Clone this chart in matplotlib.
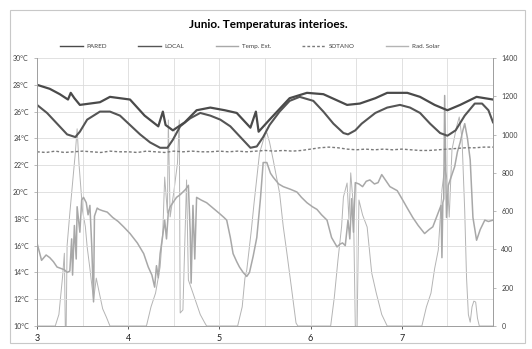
"""
Junio. Temperaturas interiores - recreated chart
"""
import matplotlib
matplotlib.use('Agg')
import matplotlib.pyplot as plt
from matplotlib.patches import Rectangle

# --- data (days on x axis) ---
pared_x = [3.00, 3.14, 3.25, 3.34, 3.37, 3.41, 3.47, 3.58, 3.69, 3.80, 3.91, 4.02,
           4.18, 4.33, 4.38, 4.41, 4.49, 4.62, 4.75, 4.90, 5.06, 5.19, 5.34, 5.40,
           5.43, 5.55, 5.77, 5.96, 6.14, 6.27, 6.40, 6.54, 6.71, 6.84, 7.06, 7.20,
           7.36, 7.50, 7.64, 7.82, 7.91, 8.00]
pared_t = [28.0, 27.7, 27.3, 26.9, 27.4, 27.0, 26.5, 26.6, 26.7, 27.1, 27.0, 26.9,
           25.7, 24.9, 26.0, 25.0, 24.6, 25.2, 26.1, 26.3, 26.1, 25.9, 24.8, 26.0,
           24.5, 25.4, 27.0, 27.4, 27.3, 26.9, 26.5, 26.6, 27.0, 27.4, 27.4, 27.1,
           26.5, 26.1, 26.5, 27.1, 27.0, 26.9]

local_x = [3.00, 3.11, 3.22, 3.33, 3.42, 3.47, 3.55, 3.69, 3.80, 3.91, 4.02, 4.13,
           4.24, 4.35, 4.43, 4.49, 4.57, 4.68, 4.79, 4.90, 5.01, 5.12, 5.23, 5.34,
           5.41, 5.48, 5.55, 5.66, 5.77, 5.88, 6.03, 6.14, 6.25, 6.36, 6.41, 6.49,
           6.56, 6.71, 6.84, 6.98, 7.09, 7.20, 7.31, 7.42, 7.50, 7.59, 7.69, 7.80,
           7.88, 7.95, 8.00]
local_t = [26.5, 25.9, 25.1, 24.3, 24.1, 24.5, 25.4, 26.0, 26.0, 25.7, 25.0, 24.3,
           23.7, 23.3, 23.3, 23.9, 24.9, 25.5, 25.9, 25.7, 25.4, 24.9, 24.1, 23.3,
           23.4, 24.1, 25.0, 26.0, 26.8, 27.1, 26.8, 26.0, 25.1, 24.4, 24.3, 24.6,
           25.1, 25.9, 26.3, 26.5, 26.3, 25.9, 25.1, 24.4, 24.2, 24.6, 25.7, 26.6,
           26.6, 26.1, 25.2]

ext_x = [3.00, 3.05, 3.10, 3.14, 3.18, 3.22, 3.26, 3.30, 3.33, 3.36, 3.38, 3.39,
         3.41, 3.43, 3.44, 3.47, 3.49, 3.51, 3.54, 3.56, 3.58, 3.60, 3.62, 3.63,
         3.66, 3.68, 3.72, 3.77, 3.83, 3.89, 3.95, 4.02, 4.10, 4.17, 4.22, 4.26,
         4.29, 4.31, 4.33, 4.35, 4.38, 4.40, 4.42, 4.44, 4.46, 4.50, 4.53, 4.57,
         4.60, 4.63, 4.66, 4.68, 4.69, 4.71, 4.73, 4.75, 4.80, 4.86, 4.93, 5.00,
         5.05, 5.08, 5.12, 5.15, 5.19, 5.22, 5.26, 5.30, 5.33, 5.37, 5.41, 5.45,
         5.48, 5.52, 5.56, 5.59, 5.65, 5.70, 5.78, 5.85, 5.90, 5.96, 6.02, 6.07,
         6.12, 6.18, 6.23, 6.29, 6.32, 6.35, 6.38, 6.41, 6.43, 6.45, 6.47, 6.49,
         6.53, 6.57, 6.61, 6.65, 6.70, 6.74, 6.78, 6.82, 6.87, 6.95, 7.01, 7.06,
         7.12, 7.18, 7.25, 7.30, 7.34, 7.39, 7.43, 7.44, 7.45, 7.46, 7.47, 7.49,
         7.51, 7.53, 7.58, 7.61, 7.64, 7.67, 7.69, 7.72, 7.75, 7.78, 7.82, 7.86,
         7.91, 7.95, 8.00]
ext_t = [16.2, 14.9, 15.3, 15.1, 14.8, 14.4, 14.3, 14.2, 14.0, 14.1, 16.5, 13.8,
         17.5, 15.0, 18.9, 17.0, 19.4, 19.6, 19.2, 18.3, 19.0, 16.0, 11.8, 18.2,
         18.8, 18.7, 18.6, 18.5, 18.1, 17.8, 17.4, 16.9, 16.2, 15.4, 14.4, 13.8,
         12.9, 14.5, 13.6, 15.4, 16.8, 17.9, 16.5, 18.5, 18.9, 19.3, 19.6, 19.8,
         20.0, 20.2, 20.5, 17.0, 13.2, 19.0, 15.0, 19.6, 19.4, 19.2, 18.8, 18.4,
         18.1, 17.9, 16.6, 15.4, 14.8, 14.4, 14.0, 13.7, 14.0, 15.2, 16.6, 19.5,
         22.2, 22.2, 21.4, 21.1, 20.6, 20.4, 20.2, 20.0, 19.6, 19.2, 18.9, 18.7,
         18.3, 17.9, 16.6, 15.9, 16.1, 16.2, 16.0, 17.9, 16.5, 19.5, 17.0, 20.7,
         20.6, 20.4, 20.8, 20.9, 20.6, 20.7, 21.3, 20.9, 20.4, 20.1, 19.4, 18.8,
         18.1, 17.5, 16.9, 17.2, 17.4, 18.3, 19.0, 15.1, 19.2, 19.5, 27.2, 18.1,
         20.5, 20.9, 21.9, 23.0, 23.7, 24.6, 25.1, 24.0, 22.4, 18.1, 16.4, 17.2,
         17.9, 17.8, 17.9]

sotano_x = [3.0, 3.1, 3.2, 3.3, 3.4, 3.5, 3.6, 3.7, 3.8, 3.9, 4.0, 4.1, 4.2, 4.3,
            4.4, 4.5, 4.6, 4.7, 4.8, 4.9, 5.0, 5.1, 5.2, 5.3, 5.4, 5.5, 5.6, 5.7,
            5.8, 5.9, 6.0, 6.1, 6.2, 6.3, 6.4, 6.5, 6.6, 6.7, 6.8, 6.9, 7.0, 7.1,
            7.2, 7.3, 7.4, 7.5, 7.6, 7.7, 7.8, 7.9, 8.0]
sotano_t = [23.0, 22.95, 23.05, 22.95, 23.0, 23.05, 23.0, 22.95, 23.05, 23.0, 23.0,
            22.95, 23.05, 23.0, 22.95, 23.05, 23.0, 23.05, 23.0, 23.0, 23.05, 23.0,
            23.05, 23.0, 23.05, 23.1, 23.05, 23.1, 23.05, 23.1, 23.2, 23.3, 23.35,
            23.3, 23.2, 23.15, 23.2, 23.15, 23.2, 23.15, 23.2, 23.15, 23.1, 23.1,
            23.15, 23.2, 23.25, 23.3, 23.3, 23.35, 23.35]

rad_x = [3.00, 3.20, 3.24, 3.28, 3.30, 3.31, 3.32, 3.33, 3.36, 3.40, 3.42, 3.44,
         3.46, 3.48, 3.50, 3.53, 3.55, 3.58, 3.62, 3.65, 3.68, 3.72, 3.76, 3.80,
         4.20, 4.25, 4.30, 4.35, 4.38, 4.40, 4.43, 4.44, 4.46, 4.50, 4.54, 4.56,
         4.57, 4.60, 4.64, 4.66, 4.71, 4.79, 4.84, 4.86,
         5.20, 5.25, 5.28, 5.30, 5.35, 5.38, 5.44, 5.50, 5.52, 5.55, 5.59, 5.66,
         5.70, 5.74, 5.79, 5.84, 5.86,
         6.22, 6.26, 6.30, 6.34, 6.36, 6.40, 6.42, 6.44, 6.47, 6.49, 6.51, 6.53,
         6.57, 6.62, 6.67, 6.72, 6.78, 6.84,
         7.22, 7.27, 7.32, 7.36, 7.40, 7.44, 7.47, 7.50, 7.52, 7.55, 7.60, 7.63,
         7.66, 7.69, 7.71, 7.73, 7.75, 7.77, 7.79, 7.81, 7.83, 7.85, 8.00]
rad_w = [0, 0, 60, 256, 380, 0, 0, 420, 590, 800, 903, 1030,
         850, 726, 600, 520, 413, 300, 136, 250, 180, 90, 47, 0,
         0, 100, 172, 308, 501, 778, 590, 1076, 570, 700, 850, 1076,
         68, 84, 763, 240, 172, 60, 16, 0,
         0, 100, 250, 292, 500, 642, 903, 1000, 1010, 960, 867, 694,
         520, 381, 200, 16, 0,
         0, 150, 345, 520, 674, 747, 560, 800, 620, 0, 0, 658,
         580, 517, 277, 172, 60, 0,
         0, 100, 172, 300, 397, 710, 830, 760, 569, 920, 1040, 1092,
         980, 600, 250, 60, 20, 100, 130, 125, 40, 0, 0]

x_ticks = [3, 4, 5, 6, 7]
t_ticks = list(range(10, 31, 2))
r_ticks = list(range(0, 1401, 200))

plt.rcParams['font.family'] = ['Lato', 'DejaVu Sans']


def main():
    fig = plt.figure(figsize=(5.32, 3.49), dpi=100)
    fig.patches.append(Rectangle((10 / 532, 6 / 349), 515 / 532, 333 / 349,
                                 transform=fig.transFigure, fill=False,
                                 edgecolor='#c8c8c8', linewidth=0.8))

    ax = fig.add_axes([37 / 532, 1 - 326 / 349, 456 / 532, 268 / 349])
    ax2 = ax.twinx()

    ax.set_xlim(3, 8)
    ax.set_ylim(10, 30)
    ax2.set_ylim(0, 1400)

    ax.set_xticks(x_ticks)
    ax.set_xticks([3.5, 4.5, 5.5, 6.5, 7.5], minor=True)
    ax.set_yticks(t_ticks)
    ax.set_yticklabels([f'{t}°C' for t in t_ticks])
    ax2.set_yticks(r_ticks)
    ax.grid(True, which='both', axis='x', color='#dcdcdc', linewidth=0.6)
    ax.grid(True, which='major', axis='y', color='#dcdcdc', linewidth=0.6)
    ax.set_axisbelow(True)

    for a in (ax, ax2):
        a.spines['top'].set_visible(False)
        for s in ('left', 'right', 'bottom'):
            a.spines[s].set_color('#a0a0a0')
            a.spines[s].set_linewidth(0.7)
        a.tick_params(labelsize=5, colors='#404040', length=2.5, width=0.5,
                      color='#a0a0a0')
    ax.tick_params(axis='x', which='minor', length=0)
    ax.tick_params(axis='x', labelsize=6.5, colors='#202020')

    r, = ax2.plot(rad_x, rad_w, color='#b4b4b4', linewidth=0.7)
    e, = ax.plot(ext_x, ext_t, color='#a8a8a8', linewidth=1.1)
    s, = ax.plot(sotano_x, sotano_t, color='#7a7a7a', linewidth=1.0,
                 linestyle=(0, (2, 1.5)))
    lo, = ax.plot(local_x, local_t, color='#555555', linewidth=1.5)
    p, = ax.plot(pared_x, pared_t, color='#4a4a4a', linewidth=1.6)
    ax.set_zorder(ax2.get_zorder() + 1)
    ax.patch.set_visible(False)

    leg = fig.legend([p, lo, e, s, r],
                     ['PARED', 'LOCAL', 'Temp. Ext.', 'SOTANO', 'Rad. Solar'],
                     loc='center', bbox_to_anchor=(250 / 532, 1 - 46 / 349),
                     ncol=5, frameon=False, fontsize=4.5, handlelength=3.6,
                     handletextpad=0.6, columnspacing=5.0, labelcolor='#404040')
    for h in leg.get_lines():
        h.set_linewidth(1.0)

    fig.text(268 / 532, 1 - 25 / 349, 'Junio. Temperaturas interioes.',
             ha='center', va='center', fontsize=8.5, fontweight='bold')

    fig.savefig('out.png', dpi=100)


if __name__ == '__main__':
    main()
